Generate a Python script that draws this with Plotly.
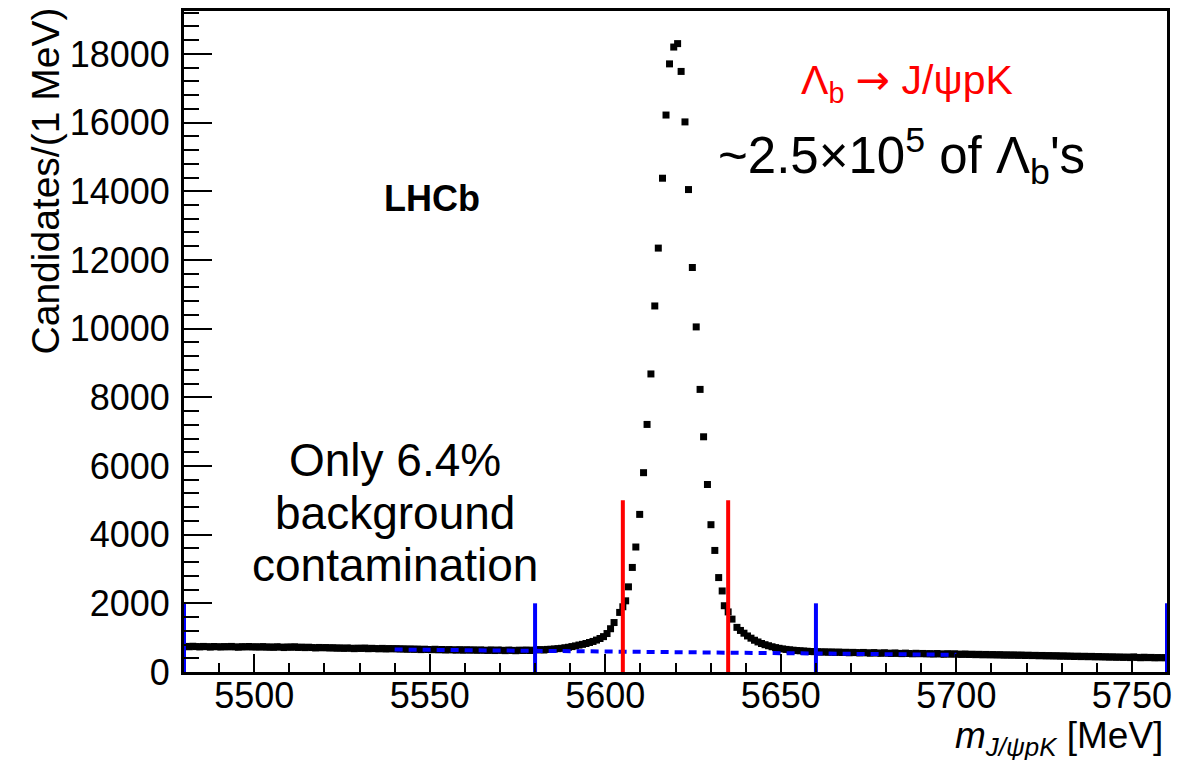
import numpy as np
import plotly.graph_objects as go

# ---- invariant-mass spectrum, Lambda_b -> J/psi p K ----
# sideband / low-mass region, 1 MeV bins (5480.5 ... 5602.5)
left_mass = np.arange(5480.5, 5603.0, 1.0)
left_counts = [
    745, 735, 750, 740, 730, 745, 738, 725, 742, 735, 728, 740, 732, 745, 730, 722, 738, 730, 742, 728,
    735, 725, 740, 722, 730, 718, 735, 726, 712, 730, 720, 735, 715, 725, 710, 722, 712, 700, 715, 705,
    712, 698, 708, 692, 702, 688, 700, 692, 680, 695, 686, 698, 678, 690, 682, 675, 688, 670, 682, 675,
    680, 668, 675, 662, 672, 660, 668, 652, 664, 656, 650, 662, 646, 656, 640, 652, 645, 638, 650, 634,
    648, 636, 644, 632, 642, 634, 628, 644, 625, 640, 632, 622, 638, 630, 620, 636, 628, 640, 626, 636,
    645, 652, 640, 658, 662, 670, 680, 690, 705, 720, 740, 760,
    785, 805, 830, 860, 890, 930, 975, 1030, 1120, 1260, 1440,
]

# signal peak
peak_mass = [
    5604.1, 5605.0, 5605.8, 5606.6, 5607.7, 5608.7, 5609.8, 5610.9, 5611.9, 5613.0,
    5614.1, 5615.1, 5616.3, 5617.3, 5618.3, 5619.5, 5620.6, 5621.6, 5622.7, 5623.7,
    5624.8, 5625.9, 5627.0, 5628.0, 5629.1, 5630.1, 5631.2, 5632.3, 5633.3, 5633.9,
    5635.0, 5636.1,
]
peak_counts = [
    1735, 1900, 2073, 2480, 3045, 3640, 4590, 5805, 7210, 8680,
    10660, 12345, 14380, 16220, 17710, 18200, 18300, 17490, 16020, 14050,
    11780, 10050, 8230, 6850, 5460, 4290, 3540, 2750, 2360, 1930,
    1750, 1540,
]

# high-mass tail, 1 MeV bins (5637.5 ... 5759.5)
right_mass = np.arange(5637.5, 5760.0, 1.0)
right_counts = [
    1300, 1210, 1130, 1050, 985, 925, 875, 830, 795, 765, 735, 710, 690, 672, 658, 645, 635, 625, 618, 610,
    604, 598, 592,
    592, 580, 588, 575, 585, 570, 582, 568, 575, 560, 572, 565, 555, 570, 558, 548, 565, 552, 545, 560,
    548, 540, 555, 542, 535, 550, 538, 530, 545, 532, 540, 528, 535, 522, 538, 525, 518, 532, 520, 528,
    520, 512, 525, 510, 518, 505, 515, 500, 512, 498, 508, 495, 505, 490, 500, 488, 498, 485, 495, 480,
    490, 478, 485, 472, 482, 468, 478, 465, 475, 460, 470, 458, 465, 452, 462, 448, 458, 445, 455, 440,
    450, 438, 445, 432, 442, 428, 438, 425, 435, 420, 440, 425, 415, 430, 418, 425, 412, 420, 415, 418,
]

# linear background estimate
bkg_mass = [5540, 5700]
bkg_counts = [655, 500]

# signal window and sideband boundaries
signal_edges = [5605, 5635]
signal_marker_height = 5000
sideband_edges = [5480, 5580, 5660, 5760]
sideband_marker_height = 2000

x_ticks = [5500, 5550, 5600, 5650, 5700, 5750]

mass = np.concatenate([left_mass, peak_mass, right_mass])
counts = np.concatenate([left_counts, peak_counts, right_counts])

FONT = "Liberation Sans, Arial, Helvetica, sans-serif"

fig = go.Figure()

fig.add_trace(go.Scatter(
    x=mass, y=counts, mode="markers",
    marker=dict(symbol="square", size=7, color="black", line=dict(width=0)),
    showlegend=False, hoverinfo="skip",
))

fig.add_trace(go.Scatter(
    x=bkg_mass, y=bkg_counts, mode="lines",
    line=dict(color="#0000ff", width=4, dash="8px,6px"),
    showlegend=False, hoverinfo="skip",
))

for xe in sideband_edges:
    fig.add_trace(go.Scatter(
        x=[xe, xe], y=[0, sideband_marker_height], mode="lines",
        line=dict(color="#0000ff", width=4),
        showlegend=False, hoverinfo="skip",
    ))

for xe in signal_edges:
    fig.add_trace(go.Scatter(
        x=[xe, xe], y=[0, signal_marker_height], mode="lines",
        line=dict(color="#ff0000", width=4),
        showlegend=False, hoverinfo="skip",
    ))

W, H = 1180, 760
L, R, T, B = 184, 8, 10, 88
pw, ph = W - L - R, H - T - B


def px(xp):
    return (xp - L) / pw


def py(yp):
    return (H - B - yp) / ph


arrow = '<span style="font-family:DejaVu Sans">→</span>'

annotations = [
    dict(text="Candidates/(1 MeV)", textangle=-90, x=px(45), y=py(180),
         font=dict(size=39, family=FONT, color="black")),
    dict(text="<i>m</i><sub><i>J/ψpK</i></sub> [MeV]", x=px(1170), y=py(713),
         xanchor="right", yanchor="top",
         font=dict(size=37, family=FONT, color="black")),
    dict(text="<b>LHCb</b>", x=px(433), y=py(198),
         font=dict(size=36, family=FONT, color="black")),
    dict(text=f"Λ<sub>b</sub> {arrow} J/ψpK", x=px(911), y=py(82),
         font=dict(size=41, family=FONT, color="#ff0000")),
    dict(text="~2.5×10<sup>5</sup> of Λ<sub>b</sub>'s", x=px(905), y=py(155),
         font=dict(size=51, family=FONT, color="black")),
    dict(text="Only 6.4%", x=px(396), y=py(460),
         font=dict(size=46, family=FONT, color="black")),
    dict(text="background", x=px(396), y=py(513),
         font=dict(size=46, family=FONT, color="black")),
    dict(text="contamination", x=px(396), y=py(565),
         font=dict(size=46, family=FONT, color="black")),
]
for a in annotations:
    a.setdefault("xanchor", "center")
    a.setdefault("yanchor", "middle")
    a.update(xref="paper", yref="paper", showarrow=False)

fig.update_layout(
    width=W, height=H,
    margin=dict(l=L, r=R, t=T, b=B),
    paper_bgcolor="white", plot_bgcolor="white",
    font=dict(family=FONT, color="black"),
    annotations=annotations,
    xaxis=dict(
        range=[5480, 5760], tickvals=x_ticks,
        ticks="inside", ticklen=18, tickwidth=2, tickcolor="black",
        minor=dict(dtick=10, tick0=5480, ticks="inside", ticklen=9, tickwidth=2, tickcolor="black"),
        showline=True, linewidth=3, linecolor="black", mirror=True,
        showgrid=False, zeroline=False,
        tickfont=dict(size=36, family=FONT, color="black"),
        ticklabelstandoff=-10,
    ),
    yaxis=dict(
        range=[0, 19250], tick0=0, dtick=2000, tickformat="d",
        ticks="inside", ticklen=28, tickwidth=2, tickcolor="black",
        minor=dict(dtick=400, tick0=0, ticks="inside", ticklen=15, tickwidth=2, tickcolor="black"),
        showline=True, linewidth=3, linecolor="black", mirror=True,
        showgrid=False, zeroline=False,
        tickfont=dict(size=36, family=FONT, color="black"),
        ticklabelstandoff=4,
    ),
)

fig.write_html("out.html")
